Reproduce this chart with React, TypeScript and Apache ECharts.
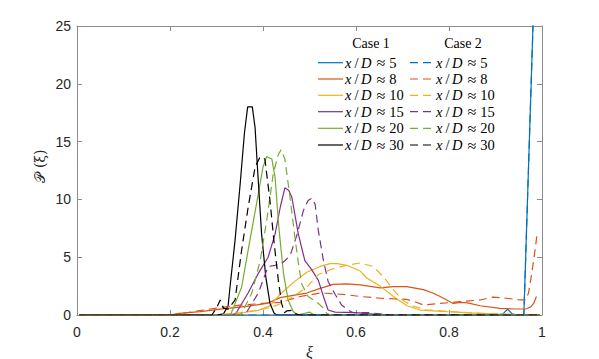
import { useEffect, useRef } from "react";
import * as echarts from "echarts";

// ---- data ----
const cases = ["Case 1", "Case 2"];
const stations = ["5", "8", "10", "15", "20", "30"];
const colors = ["#0072BD", "#D95319", "#EDB120", "#7E2F8E", "#77AC30", "#000000"];
const xTickLabels = ["0", "0.2", "0.4", "0.6", "0.8", "1"];
const yTickLabels = ["0", "5", "10", "15", "20", "25"];
const xTitle = "ξ";
const yTitle = "𝒫 (ξ)";

// Case 1 (solid)
const c1_5 = [[0.005,0],[0.905,0],[0.916,0.1],[0.926,0.5],[0.936,0.1],[0.945,0],[0.961,0],[0.981,25.5],[0.99,37]];
const c1_8 = [[0.005,0],[0.2,0],[0.22,0.14],[0.265,0.3],[0.308,0.5],[0.365,0.75],[0.408,1.0],[0.437,1.5],[0.465,1.7],[0.494,1.9],[0.523,2.3],[0.551,2.65],[0.58,2.7],[0.609,2.6],[0.652,2.35],[0.68,2.45],[0.709,2.45],[0.745,2.2],[0.765,1.9],[0.781,1.6],[0.809,1.0],[0.825,1.1],[0.84,1.05],[0.867,0.8],[0.91,0.58],[0.94,0.52],[0.965,0.52],[0.976,0.7],[0.982,1.0],[0.988,1.6]];
const c1_10 = [[0.005,0],[0.3,0],[0.35,0.15],[0.39,0.4],[0.415,0.8],[0.437,1.8],[0.465,2.8],[0.494,3.7],[0.523,4.2],[0.544,4.45],[0.56,4.45],[0.58,4.3],[0.609,3.8],[0.623,3.2],[0.652,2.5],[0.684,1.5],[0.71,0.8],[0.738,0.43],[0.795,0.29],[0.867,0.14],[0.91,0.08],[0.95,0],[0.995,0]];
const c1_15 = [[0.005,0],[0.335,0],[0.342,0.15],[0.368,1.9],[0.39,3.6],[0.411,5.0],[0.426,7.0],[0.437,9.3],[0.447,11.0],[0.455,10.8],[0.462,10.2],[0.476,7.0],[0.49,4.7],[0.505,3.9],[0.519,3.0],[0.53,1.6],[0.54,0.43],[0.555,0.25],[0.6,0.2],[0.63,0.1],[0.66,0],[0.995,0]];
const c1_20 = [[0.005,0],[0.33,0],[0.354,2.4],[0.372,6.5],[0.39,10.5],[0.4,12.8],[0.408,13.7],[0.419,13.5],[0.426,11.9],[0.434,7.6],[0.444,3.6],[0.454,1.3],[0.465,0.3],[0.475,0],[0.49,0.15],[0.5,0.25],[0.51,0],[0.995,0]];
const c1_30 = [[0.005,0],[0.3,0],[0.315,0.1],[0.325,0.8],[0.329,2.4],[0.34,6.5],[0.351,11.4],[0.36,15.7],[0.367,18.0],[0.377,18.0],[0.383,16.2],[0.388,12.8],[0.397,7.0],[0.406,3.3],[0.415,1.0],[0.424,0.15],[0.43,0],[0.995,0]];

// Case 2 (dashed)
const c2_5 = [[0.005,0],[0.961,0],[0.981,25.5],[0.99,37]];
const c2_8 = [[0.005,0],[0.2,0],[0.22,0.1],[0.26,0.35],[0.3,0.6],[0.35,0.85],[0.4,1.0],[0.437,1.1],[0.48,1.6],[0.523,1.9],[0.55,1.85],[0.58,1.75],[0.609,1.6],[0.652,1.45],[0.709,1.35],[0.73,1.1],[0.745,0.86],[0.781,1.0],[0.824,1.15],[0.867,1.3],[0.895,1.55],[0.924,1.45],[0.953,1.3],[0.965,1.3],[0.971,1.9],[0.978,3.6],[0.985,5.6],[0.99,7.2]];
const c2_10 = [[0.005,0],[0.3,0],[0.35,0.2],[0.4,0.5],[0.42,0.7],[0.445,1.1],[0.465,1.6],[0.494,2.4],[0.519,3.5],[0.551,4.0],[0.58,4.3],[0.609,4.5],[0.637,4.2],[0.659,3.3],[0.68,2.2],[0.7,1.3],[0.72,0.8],[0.75,0.45],[0.8,0.3],[0.85,0.18],[0.9,0.1],[0.95,0.03],[0.97,0],[0.995,0]];
const c2_15 = [[0.005,0],[0.361,0],[0.39,1.9],[0.411,4.2],[0.426,4.3],[0.44,4.45],[0.458,5.1],[0.472,6.8],[0.487,9.05],[0.497,9.9],[0.505,10.1],[0.512,9.6],[0.519,7.3],[0.53,4.7],[0.54,2.9],[0.555,1.8],[0.569,0.86],[0.583,0.43],[0.594,0.2],[0.63,0.2],[0.66,0.05],[0.68,0],[0.995,0]];
const c2_20 = [[0.005,0],[0.352,0],[0.376,1.9],[0.394,4.7],[0.408,8.2],[0.422,12.2],[0.433,13.9],[0.439,14.3],[0.447,13.5],[0.458,10.2],[0.469,6.6],[0.476,4.5],[0.483,2.7],[0.497,1.6],[0.515,1.15],[0.53,0.6],[0.537,0.15],[0.545,0],[0.995,0]];
const c2_30 = [[0.005,0],[0.29,0],[0.3,0.6],[0.308,1.3],[0.315,0.6],[0.325,0.5],[0.34,1.3],[0.354,5.6],[0.368,9.3],[0.383,12.8],[0.394,13.7],[0.404,13.5],[0.415,9.9],[0.424,6.2],[0.433,3.0],[0.44,1.0],[0.446,0.2],[0.451,0.35],[0.462,0.4],[0.47,0.1],[0.48,0],[0.995,0]];

const case1 = [c1_5, c1_8, c1_10, c1_15, c1_20, c1_30];
const case2 = [c2_5, c2_8, c2_10, c2_15, c2_20, c2_30];

const SERIF = "'Liberation Serif', 'Times New Roman', serif";
const SANS = "'Liberation Sans', Arial, sans-serif";
const DASH = [8, 5];
const AXIS_COLOR = "#8c8c8c";

function mkLine() {
  return { show: true, onZero: false, lineStyle: { color: AXIS_COLOR, width: 1 } };
}
function mkTick() {
  return { show: true, inside: true, length: 5, lineStyle: { color: AXIS_COLOR, width: 1 } };
}

export default function App() {
  const ref = useRef<HTMLDivElement>(null);

  useEffect(() => {
    if (!ref.current) return;
    const chart = echarts.init(ref.current, null, { renderer: "svg" });

    const series: any[] = [];
    [case1, case2].forEach((group, ci) => {
      group.forEach((data, i) => {
        series.push({
          name: `${cases[ci]} x/D ≈ ${stations[i]}`,
          type: "line",
          xAxisIndex: 0,
          yAxisIndex: 0,
          data,
          showSymbol: false,
          symbol: "none",
          clip: true,
          silent: true,
          lineStyle: { color: colors[i], width: 1.2, type: ci === 0 ? "solid" : DASH },
        });
      });
    });

    // legend drawn as graphic
    const rowY = [62.7, 79, 95.3, 111.7, 128.3, 145];
    const colLine = [[318, 343], [410, 434]];
    const colText = [345, 436];
    const headerX = [371, 463];
    const graphic: any[] = [];
    cases.forEach((c, ci) => {
      graphic.push({
        type: "text",
        x: headerX[ci],
        y: 43,
        style: { text: c, font: `14px ${SERIF}`, fill: "#000", align: "center", verticalAlign: "middle" },
      });
      stations.forEach((s, i) => {
        graphic.push({
          type: "line",
          shape: { x1: colLine[ci][0], y1: rowY[i], x2: colLine[ci][1], y2: rowY[i] },
          style: { stroke: colors[i], lineWidth: 1.2, lineDash: ci === 0 ? null : DASH },
        });
        graphic.push({
          type: "text",
          x: colText[ci],
          y: rowY[i],
          style: {
            text: `{x|x}{s|/}{d|D}{a|≈}{n|${s}}`,
            verticalAlign: "middle",
            align: "left",
            fill: "#000",
            rich: {
              x: { fontFamily: SERIF, fontStyle: "italic", fontSize: 14.5, padding: [0, 1.5, 0, 0], fill: "#000" },
              s: { fontFamily: SERIF, fontSize: 14.5, padding: [0, 1.5, 0, 1.5], fill: "#000" },
              d: { fontFamily: SERIF, fontStyle: "italic", fontSize: 14.5, padding: [0, 0, 0, 1], fill: "#000" },
              a: { fontFamily: SERIF, fontSize: 16, padding: [0, 4, 0, 5], fill: "#000" },
              n: { fontFamily: SERIF, fontSize: 14.5, fill: "#000" },
            },
          },
        });
      });
    });

    // y-axis title (rotated)
    graphic.push({
      type: "text",
      x: 40,
      y: 166,
      rotation: Math.PI / 2,
      style: {
        text: yTitle,
        font: `14px 'DejaVu Serif', 'DejaVu Sans', serif`,
        fill: "#262626",
        align: "center",
        verticalAlign: "middle",
      },
    });

    chart.setOption({
      animation: false,
      grid: { left: 77, right: 57, top: 26, bottom: 44, containLabel: false, outerBoundsMode: "none" },
      xAxis: [
        {
          type: "value",
          min: 0,
          max: 1,
          interval: 0.2,
          position: "bottom",
          axisLine: mkLine(),
          axisTick: mkTick(),
          splitLine: { show: false },
          axisLabel: {
            color: "#262626",
            fontFamily: SANS,
            fontSize: 14,
            margin: 10,
            formatter: (v: number) => xTickLabels[Math.round(v / 0.2)] ?? "",
          },
          name: xTitle,
          nameLocation: "middle",
          nameGap: 29,
          nameTextStyle: { fontFamily: SERIF, fontStyle: "italic", fontSize: 16, color: "#262626" },
        },
        {
          type: "value",
          min: 0,
          max: 1,
          interval: 0.2,
          position: "top",
          axisLine: mkLine(),
          axisTick: mkTick(),
          axisLabel: { show: false },
          splitLine: { show: false },
        },
      ],
      yAxis: [
        {
          type: "value",
          min: 0,
          max: 25,
          interval: 5,
          position: "left",
          axisLine: mkLine(),
          axisTick: mkTick(),
          splitLine: { show: false },
          axisLabel: {
            color: "#262626",
            fontFamily: SANS,
            fontSize: 14,
            margin: 6,
            formatter: (v: number) => yTickLabels[Math.round(v / 5)] ?? "",
          },
        },
        {
          type: "value",
          min: 0,
          max: 25,
          interval: 5,
          position: "right",
          axisLine: mkLine(),
          axisTick: mkTick(),
          axisLabel: { show: false },
          splitLine: { show: false },
        },
      ],
      series,
      graphic,
    });

    return () => chart.dispose();
  }, []);

  return <div ref={ref} style={{ width: 599, height: 359, position: "absolute", left: 0, top: 0 }} />;
}
